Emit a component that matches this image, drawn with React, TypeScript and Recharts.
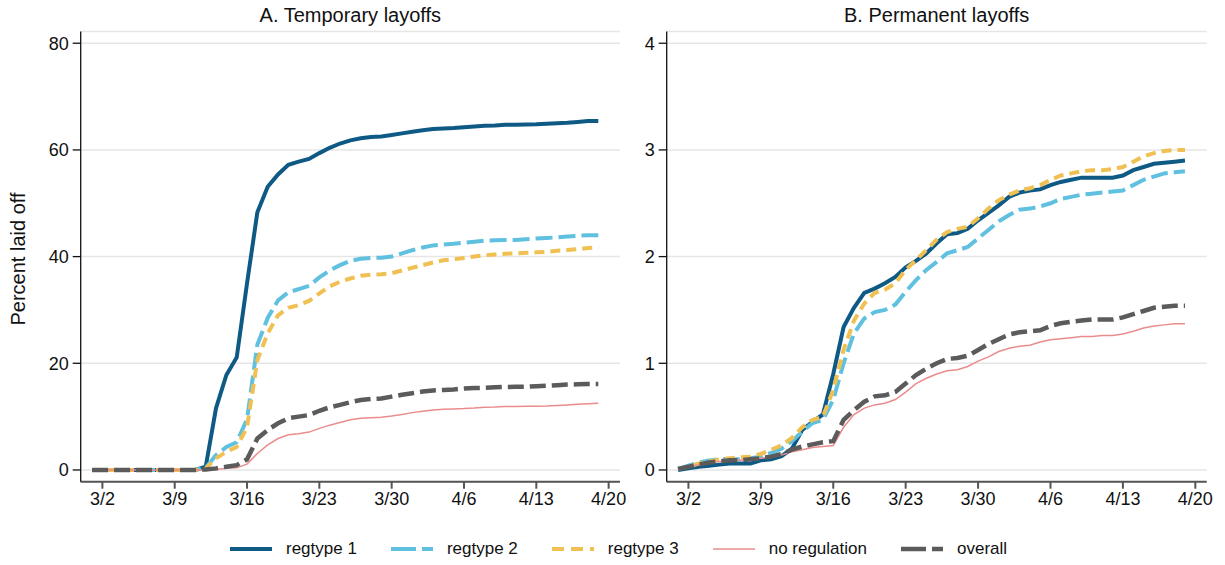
import {FC} from "react";
import {LineChart, Line, CartesianGrid, XAxis, YAxis} from 'recharts';

// days counted from 3/1 (index 0) to 4/19 (index 49)
const dayLabels: string[] = [
    '3/1', '3/2', '3/3', '3/4', '3/5', '3/6', '3/7', '3/8', '3/9', '3/10',
    '3/11', '3/12', '3/13', '3/14', '3/15', '3/16', '3/17', '3/18', '3/19', '3/20',
    '3/21', '3/22', '3/23', '3/24', '3/25', '3/26', '3/27', '3/28', '3/29', '3/30',
    '3/31', '4/1', '4/2', '4/3', '4/4', '4/5', '4/6', '4/7', '4/8', '4/9',
    '4/10', '4/11', '4/12', '4/13', '4/14', '4/15', '4/16', '4/17', '4/18', '4/19'
];

const xTicks = [1, 8, 15, 22, 29, 36, 43, 50];
const xTickLabels = ['3/2', '3/9', '3/16', '3/23', '3/30', '4/6', '4/13', '4/20'];

const tempTicks = [0, 20, 40, 60, 80];
const permTicks = [0, 1, 2, 3, 4];

// A. Temporary layoffs
const tempReg1 = [
    0, 0, 0, 0, 0, 0, 0, 0, 0, 0, 0, 0.6, 11.6, 17.8, 21.1, 35, 48.3, 53.1, 55.4, 57.2,
    57.8, 58.3, 59.4, 60.4, 61.2, 61.8, 62.2, 62.4, 62.5, 62.8, 63.1, 63.4, 63.7, 63.9, 64.0, 64.1, 64.25, 64.4, 64.55, 64.6,
    64.7, 64.7, 64.75, 64.8, 64.9, 65.0, 65.1, 65.25, 65.4, 65.4
];
const tempReg2 = [
    0, 0, 0, 0, 0, 0, 0, 0, 0, 0, 0, 0.4, 2.8, 4.3, 5.2, 9.5, 23.5, 28.5, 31.8, 33.3,
    33.9, 34.5, 36.1, 37.4, 38.4, 39.2, 39.6, 39.75, 39.8, 40.0, 40.6, 41.2, 41.7, 42.1, 42.25, 42.4, 42.6, 42.8, 43.0, 43.05,
    43.1, 43.1, 43.25, 43.4, 43.5, 43.6, 43.75, 43.9, 44.0, 44.0
];
const tempReg3 = [
    0, 0, 0, 0, 0, 0, 0, 0, 0, 0, 0, 0.3, 2.2, 3.4, 4.3, 8.0, 20.6, 25.6, 29.0, 30.4,
    30.9, 31.7, 33.1, 34.4, 35.3, 35.9, 36.4, 36.6, 36.7, 36.9, 37.4, 37.9, 38.4, 38.9, 39.3, 39.5, 39.75, 40.0, 40.25, 40.4,
    40.55, 40.6, 40.7, 40.8, 40.9, 41.1, 41.25, 41.4, 41.6, 41.7
];
const tempNoReg = [
    0, 0, 0, 0, 0, 0, 0, 0, 0, 0, 0, 0.05, 0.1, 0.3, 0.4, 1.1, 3.1, 4.7, 5.9, 6.6,
    6.8, 7.1, 7.8, 8.4, 8.9, 9.4, 9.7, 9.8, 9.9, 10.1, 10.4, 10.75, 11.0, 11.25, 11.4, 11.45, 11.5, 11.6, 11.75, 11.8,
    11.9, 11.9, 11.95, 11.95, 12.0, 12.1, 12.2, 12.3, 12.4, 12.5
];
const tempOverall = [
    0, 0, 0, 0, 0, 0, 0, 0, 0, 0, 0, 0.1, 0.3, 0.6, 0.9, 2.0, 5.9, 7.5, 8.75, 9.7,
    10.0, 10.3, 11.1, 11.75, 12.2, 12.7, 13.1, 13.3, 13.4, 13.75, 14.1, 14.4, 14.7, 14.9, 15.0, 15.1, 15.25, 15.35, 15.4, 15.5,
    15.55, 15.6, 15.6, 15.7, 15.8, 15.9, 16.0, 16.05, 16.1, 16.1
];

// B. Permanent layoffs
const permReg1 = [
    0.0, 0.016, 0.03, 0.04, 0.05, 0.06, 0.06, 0.06, 0.09, 0.1, 0.13, 0.2, 0.375, 0.45, 0.52, 0.9, 1.34, 1.52, 1.66, 1.7,
    1.75, 1.81, 1.9, 1.96, 2.03, 2.125, 2.21, 2.22, 2.26, 2.34, 2.41, 2.48, 2.56, 2.6, 2.62, 2.63, 2.67, 2.7, 2.72, 2.74,
    2.74, 2.74, 2.74, 2.76, 2.81, 2.84, 2.87, 2.88, 2.89, 2.9
];
const permReg2 = [
    0.01, 0.04, 0.07, 0.09, 0.1, 0.1, 0.1, 0.11, 0.125, 0.16, 0.2, 0.27, 0.36, 0.44, 0.47, 0.66, 1.0, 1.28, 1.42, 1.48,
    1.5, 1.55, 1.67, 1.78, 1.875, 1.95, 2.03, 2.06, 2.09, 2.17, 2.25, 2.33, 2.39, 2.44, 2.45, 2.47, 2.5, 2.54, 2.56, 2.58,
    2.59, 2.6, 2.61, 2.62, 2.67, 2.72, 2.75, 2.78, 2.79, 2.8
];
const permReg3 = [
    0.01, 0.03, 0.06, 0.08, 0.1, 0.11, 0.12, 0.125, 0.15, 0.19, 0.23, 0.3, 0.4, 0.47, 0.5, 0.75, 1.125, 1.4, 1.56, 1.66,
    1.69, 1.75, 1.875, 1.97, 2.06, 2.16, 2.23, 2.26, 2.28, 2.36, 2.45, 2.53, 2.58, 2.62, 2.64, 2.67, 2.72, 2.76, 2.78, 2.8,
    2.81, 2.81, 2.82, 2.84, 2.89, 2.94, 2.97, 2.99, 3.0, 3.0
];
const permNoReg = [
    0.01, 0.03, 0.05, 0.07, 0.08, 0.09, 0.09, 0.1, 0.11, 0.12, 0.14, 0.17, 0.19, 0.21, 0.22, 0.23, 0.4, 0.52, 0.58, 0.61,
    0.625, 0.66, 0.73, 0.81, 0.86, 0.9, 0.93, 0.94, 0.97, 1.02, 1.06, 1.11, 1.14, 1.16, 1.17, 1.2, 1.22, 1.23, 1.24, 1.25,
    1.25, 1.26, 1.26, 1.275, 1.3, 1.33, 1.35, 1.36, 1.37, 1.37
];
const permOverall = [
    0.01, 0.03, 0.05, 0.07, 0.08, 0.09, 0.09, 0.1, 0.11, 0.125, 0.15, 0.19, 0.22, 0.24, 0.26, 0.27, 0.47, 0.56, 0.64, 0.69,
    0.7, 0.73, 0.81, 0.89, 0.95, 1.0, 1.04, 1.05, 1.07, 1.125, 1.18, 1.225, 1.27, 1.29, 1.3, 1.31, 1.35, 1.375, 1.39, 1.4,
    1.41, 1.41, 1.41, 1.43, 1.46, 1.49, 1.52, 1.53, 1.54, 1.54
];

const FONT = '"Liberation Sans", Arial, sans-serif';

interface ISeries {
    key: string;
    name: string;
    color: string;
    width: number;
    dash?: string;
}

const series: ISeries[] = [
    {key: 'reg1', name: 'regtype 1', color: '#0e5a85', width: 4},
    {key: 'reg2', name: 'regtype 2', color: '#5fc0e0', width: 4, dash: '17 6'},
    {key: 'reg3', name: 'regtype 3', color: '#f0c052', width: 4, dash: '10 6'},
    {key: 'noreg', name: 'no regulation', color: '#ea8c8c', width: 1.5},
    {key: 'overall', name: 'overall', color: '#5b5b5b', width: 4.5, dash: '16 6'},
];

const buildRows = (r1: number[], r2: number[], r3: number[], nr: number[], ov: number[]) =>
    dayLabels.map((label, i) => ({
        day: i,
        label,
        reg1: r1[i],
        reg2: r2[i],
        reg3: r3[i],
        noreg: nr[i],
        overall: ov[i],
    }));

const tempData = buildRows(tempReg1, tempReg2, tempReg3, tempNoReg, tempOverall);
const permData = buildRows(permReg1, permReg2, permReg3, permNoReg, permOverall);

const tickStyle = {fontSize: 18, fill: '#111', fontFamily: FONT};

interface IPanelProps {
    data: ReturnType<typeof buildRows>;
    width: number;
    yWidth: number;
    right: number;
    yDomain: [number, number];
    yTicks: number[];
}

const Panel: FC<IPanelProps> = ({data, width, yWidth, right, yDomain, yTicks}) => (
    <LineChart width={width} height={565} data={data}
               margin={{top: 31.5, right: right, bottom: 53.3, left: 0}}>
        <CartesianGrid vertical={false} stroke="#e6e6e6" strokeWidth={1.5}/>
        <XAxis dataKey="day" type="number" domain={[-1.1, 51.1]} ticks={xTicks}
               tickFormatter={(v: number) => xTickLabels[xTicks.indexOf(v)] ?? ''}
               interval={0} height={30} tickSize={7} tickMargin={4}
               stroke="#555" strokeWidth={2} tick={tickStyle} allowDataOverflow/>
        <YAxis type="number" domain={yDomain} ticks={yTicks} interval={0} width={yWidth}
               tickSize={8} tickMargin={4} stroke="#111" strokeWidth={1.3}
               tick={tickStyle} allowDataOverflow/>
        {series.map(s => (
            <Line key={s.key} dataKey={s.key} type="linear" stroke={s.color} strokeWidth={s.width}
                  strokeDasharray={s.dash} dot={false} activeDot={false} isAnimationActive={false}/>
        ))}
    </LineChart>
);

const LegendRow: FC = () => (
    <div style={{position: 'absolute', left: 230, top: 538, display: 'flex', alignItems: 'center',
        fontFamily: FONT, fontSize: 17, color: '#111', height: 22}}>
        {series.map((s, i) => (
            <div key={s.key} style={{display: 'flex', alignItems: 'center', marginLeft: i === 0 ? 0 : 34}}>
                <svg width={42} height={10}>
                    <line x1={0} y1={5} x2={42} y2={5} stroke={s.color} strokeWidth={s.width}
                          strokeDasharray={s.dash === '10 6' ? '12 7' : s.dash ? '25 6' : undefined}/>
                </svg>
                <span style={{marginLeft: 14}}>{s.name}</span>
            </div>
        ))}
    </div>
);

const App: FC = () => {
    return (
        <div style={{position: 'absolute', left: 0, top: 0, width: 1225, height: 565, background: '#fff'}}>
            <div style={{position: 'absolute', left: 0, top: 0}}>
                <Panel data={tempData} width={640} yWidth={80.7} right={20} yDomain={[-2.2, 82.2]} yTicks={tempTicks}/>
            </div>
            <div style={{position: 'absolute', left: 640, top: 0}}>
                <Panel data={permData} width={585} yWidth={26.7} right={18.3} yDomain={[-0.11, 4.11]} yTicks={permTicks}/>
            </div>
            <div style={{position: 'absolute', left: 80.7, width: 539.3, top: 4, textAlign: 'center',
                fontFamily: FONT, fontSize: 20, color: '#111'}}>A. Temporary layoffs</div>
            <div style={{position: 'absolute', left: 666.7, width: 540, top: 4, textAlign: 'center',
                fontFamily: FONT, fontSize: 20, color: '#111'}}>B. Permanent layoffs</div>
            <div style={{position: 'absolute', left: 18, top: 259, width: 0, height: 0}}>
                <div style={{position: 'absolute', transform: 'translate(-50%, -50%) rotate(-90deg)',
                    whiteSpace: 'nowrap', fontFamily: FONT, fontSize: 20, color: '#111'}}>Percent laid off</div>
            </div>
            <LegendRow/>
        </div>
    );
};

export default App;
